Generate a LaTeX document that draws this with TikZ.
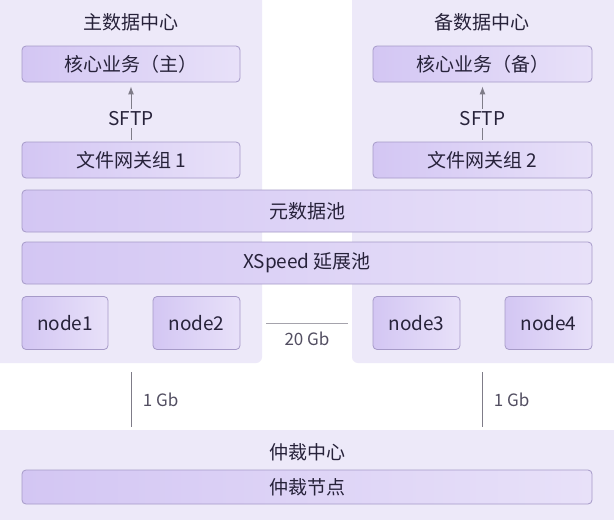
\documentclass[tikz,border=0pt]{standalone}
\usepackage{fontspec}
\setmainfont{Noto Sans CJK SC}
\usetikzlibrary{positioning,arrows.meta}

\definecolor{panelbg}{HTML}{EDE9F9}
\definecolor{boxleft}{HTML}{D3C6F3}
\definecolor{boxright}{HTML}{E8E1F9}
\definecolor{boxline}{HTML}{A69AC8}
\definecolor{txt}{HTML}{27223A}
\definecolor{wire}{HTML}{7F7C88}

\tikzset{
  panel/.style={fill=panelbg, rounded corners=6pt, inner sep=0pt},
  box/.style={draw=boxline, line width=0.8pt, left color=boxleft, right color=boxright,
    rounded corners=4pt, inner sep=0pt, text=txt, font=\fontsize{19}{22}\selectfont},
  title/.style={text=txt, font=\fontsize{19}{22}\selectfont},
  wire/.style={draw=wire, line width=1pt},
  wirelabel/.style={text=txt!80, font=\fontsize{17}{20}\selectfont},
}

\begin{document}
\begin{tikzpicture}[x=1pt,y=-1pt]
		\useasboundingbox (0,0) rectangle (614,520);
		\fill[white] (0,0) rectangle (614,520);
		
		%data centers
		\node[panel, minimum width=272pt, minimum height=373pt] (dcA) at (126,176.5) {};
		\node[panel, minimum width=272pt, minimum height=373pt] (dcB) at (488,176.5) {};
		\node[panel, minimum width=634pt, minimum height=100pt] (arbc) at (307,480) {};
		
		\node[title] (tA) at (131,22) {主数据中心};
		\node[title] (tB) at (482,22) {备数据中心};
		\node[title] (tC) at (307,452) {仲裁中心};
		
		%upper boxes
		\node[box, minimum width=218pt, minimum height=36pt] (coreA) at (131,64) {核心业务（主）};
		\node[box, minimum width=218pt, minimum height=36pt] (gwA) at (131,160) {文件网关组 1};
		\node[box, minimum width=219pt, minimum height=36pt] (coreB) at (482.5,64) {核心业务（备）};
		\node[box, minimum width=219pt, minimum height=36pt] (gwB) at (482.5,160) {文件网关组 2};
		
		%pools
		\node[box, minimum width=570pt, minimum height=42pt] (meta) at (307,211) {元数据池};
		\node[box, minimum width=570pt, minimum height=42pt] (xsp) at (307,263) {XSpeed 延展池};
		
		%storage nodes
		\node[box, minimum width=86pt, minimum height=53pt] (n1) at (65,323) {node1};
		\node[box, minimum width=87pt, minimum height=53pt] (n2) at (196.5,323) {node2};
		\node[box, minimum width=87pt, minimum height=53pt] (n3) at (416.5,323) {node3};
		\node[box, minimum width=87pt, minimum height=53pt] (n4) at (548.5,323) {node4};
		
		\node[box, minimum width=570pt, minimum height=34pt] (arb) at (307,487) {仲裁节点};
		
		%links
		\draw[wire,-{Latex[length=8pt,width=6pt]}] ([yshift=2pt]gwA.north) -- node[pos=0.4, fill=panelbg, text=txt, inner sep=2pt, font=\fontsize{19}{22}\selectfont] {SFTP} ([yshift=-4pt]coreA.south);
		\draw[wire,-{Latex[length=8pt,width=6pt]}] ([yshift=2pt]gwB.north) -- node[pos=0.4, fill=panelbg, text=txt, inner sep=2pt, font=\fontsize{19}{22}\selectfont] {SFTP} ([yshift=-4pt]coreB.south);
		
		\draw[wire, draw=wire!70] ([xshift=4pt]dcA.east |- n2) -- ([xshift=-4pt]dcB.west |- n3) node[midway, below=5pt, wirelabel] {20 Gb};
		
		\draw[wire] ([yshift=-9pt]tA |- dcA.south) -- ([yshift=3pt]tA |- arbc.north) node[midway, right=8pt, wirelabel] {1 Gb};
		\draw[wire] ([yshift=-9pt]tB |- dcB.south) -- ([yshift=3pt]tB |- arbc.north) node[midway, right=8pt, wirelabel] {1 Gb};
		
\end{tikzpicture}
\end{document}
